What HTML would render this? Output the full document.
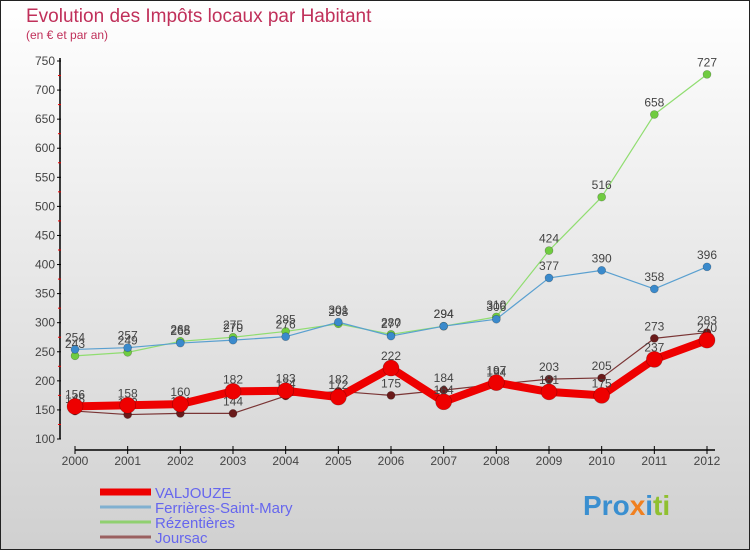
<!DOCTYPE html>
<html><head><meta charset="utf-8"><style>
html,body{margin:0;padding:0}
body{width:750px;height:550px;overflow:hidden;font-family:"Liberation Sans",sans-serif}
</style></head><body>
<svg width="750" height="550" xmlns="http://www.w3.org/2000/svg">
<defs><linearGradient id="bg" x1="0" y1="0" x2="0" y2="1"><stop offset="0" stop-color="#ffffff"/><stop offset="1" stop-color="#d0d0d0"/></linearGradient></defs>
<rect x="0.5" y="0.5" width="749" height="549" fill="url(#bg)" stroke="#222"/>
<text x="26" y="22" font-size="19" fill="#c0305a">Evolution des Impôts locaux par Habitant</text>
<text x="26" y="39" font-size="12" fill="#c0305a">(en € et par an)</text>
<g id="axes"></g>
<g id="series"></g>
<g id="legend"></g>
<g font-size="28" font-weight="bold">
<text x="583" y="515"><tspan fill="#3a8fd0">Pro</tspan><tspan fill="#f08020">x</tspan><tspan fill="#3a8fd0">i</tspan><tspan fill="#90c030">ti</tspan></text>
</g>
</svg>
<script>
const years=[2000,2001,2002,2003,2004,2005,2006,2007,2008,2009,2010,2011,2012];
const yTicks=[100,150,200,250,300,350,400,450,500,550,600,650,700,750];
const valjouze=[156,158,160,182,183,172,222,164,197,181,175,237,270];
const ferrieres=[254,257,265,270,276,301,277,294,306,377,390,358,396];
const rezentieres=[243,249,268,275,285,298,280,294,310,424,516,658,727];
const joursac=[148,142,144,144,174,182,175,184,194,203,205,273,283];
const seriesNames=["VALJOUZE","Ferrières-Saint-Mary","Rézentières","Joursac"];
const NS="http://www.w3.org/2000/svg";
function X(i){return 75+i*(707-75)/(years.length-1);}
function Y(v){return 439-(v-100)*(439-61)/650;}
function mk(tag,attrs,parent){const e=document.createElementNS(NS,tag);for(const k in attrs)e.setAttribute(k,attrs[k]);parent.appendChild(e);return e;}
const axes=document.getElementById('axes');
const ya=mk('line',{x1:60,y1:Y(750)-3,x2:60,y2:Y(100),stroke:'#000','stroke-width':1.5},axes);


yTicks.forEach(v=>{
 mk('line',{x1:57,x2:61,y1:Y(v),y2:Y(v),stroke:'#000'},axes);
 if(v<750) mk('line',{x1:58,x2:61,y1:Y(v+25),y2:Y(v+25),stroke:'#e00'},axes);
 const t=mk('text',{x:55,y:Y(v)+4,'text-anchor':'end','font-size':12,fill:'#444'},axes);t.textContent=v;
 
 
});
const xa=mk('line',{x1:75,y1:450,x2:715,y2:450,stroke:'#000','stroke-width':1.5},axes);


years.forEach((y,i)=>{
 mk('line',{x1:X(i),x2:X(i),y1:446,y2:454,stroke:'#000'},axes);
 const t=mk('text',{x:X(i),y:465,'text-anchor':'middle','font-size':12,fill:'#444'},axes);t.textContent=y;
 
 
});
const sg=document.getElementById('series');
const defs=[[joursac,'#7a3535','#6a1a1a',1.2,4,'joursac'],[rezentieres,'#90dd70','#70cc40',1.2,4,'rezentieres'],[ferrieres,'#5aa0d0','#3a8acc',1.2,4,'ferrieres'],[valjouze,'#ee0000','#ee0000',8,8,'valjouze']];
defs.forEach(([d,lc,pc,w,r,n])=>{
 const g=mk('g',{},sg);
 
 
 const p=mk('polyline',{points:d.map((v,i)=>X(i)+','+Y(v)).join(' '),fill:'none',stroke:lc,'stroke-width':w,'stroke-linejoin':'round'},g);
 
 
 d.forEach((v,i)=>{
  const c=mk('circle',{cx:X(i),cy:Y(v),r:r,fill:pc,stroke:'rgba(0,0,0,0.3)','stroke-width':0.6},g);
  
  
  const t=mk('text',{x:X(i),y:Y(v)-8,'text-anchor':'middle','font-size':12,fill:'#444'},g);t.textContent=v;
  
  
 });
});
const lg=document.getElementById('legend');
const lcol=['#ee0000','#80b0d0','#90d070','#9a6060'];const lw=[7,3,3,3];
seriesNames.forEach((s,i)=>{
 const y=492+i*15;
 const g=mk('g',{},lg);
 
 
 mk('line',{x1:100,x2:151,y1:y,y2:y,stroke:lcol[i],'stroke-width':lw[i]},g);
 const t=mk('text',{x:155,y:y+6,'font-size':15,fill:'#6666ee'},g);t.textContent=s;
});
</script>
</body></html>
